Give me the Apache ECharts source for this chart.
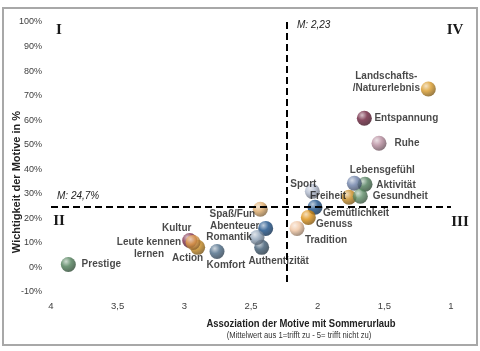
<!DOCTYPE html>
<html>
<head>
<meta charset="utf-8">
<script src="https://cdn.jsdelivr.net/npm/echarts@6/dist/echarts.min.js"></script>
<style>
  html, body { margin: 0; padding: 0; background: #fff; }
  #chart { width: 480px; height: 351px; }
</style>
</head>
<body>
<div id="chart"></div>
<script>
// Motive (Reihenfolge = Zeichenreihenfolge)
const motives = [
  'Prestige', 'Action', 'Kultur', 'Leute kennen\nlernen', 'Komfort',
  'Spaß/Fun', 'Abenteuer', 'Authentizität', 'Romantik',
  'Sport', 'Gemütlichkeit', 'Genuss', 'Tradition',
  'Freiheit', 'Aktivität', 'Lebensgefühl', 'Gesundheit',
  'Landschafts-\n/Naturerlebnis', 'Entspannung', 'Ruhe'
]
// Assoziation mit Sommerurlaub (Mittelwert 1-5)
const association = [
  3.87, 2.90, 2.96, 2.935, 2.755,
  2.43, 2.39, 2.42, 2.455,
  2.04, 2.02, 2.07, 2.155,
  1.765, 1.645, 1.725, 1.68,
  1.17, 1.65, 1.54
]
// Wichtigkeit der Motive in %
const importance = [
  1.2, 8.2, 11.0, 10.2, 6.5,
  23.7, 15.9, 8.2, 12.2,
  31.0, 24.5, 20.4, 15.9,
  28.6, 33.9, 34.3, 29.0,
  72.7, 60.8, 50.6
]
const meanAssociation = 2.23
const meanImportance = 24.7

// Farben der Kugeln
const ballColors = [
  '#4d7d57', '#c98b1f', '#7d2c48', '#e6a04a', '#4a6a86',
  '#deaa68', '#174d86', '#3d5a72', '#8ea2b8',
  '#aeb8cc', '#174d86', '#dd9012', '#f0c4a0',
  '#c98c22', '#4c7a58', '#6c80a8', '#5c8c66',
  '#d99a28', '#6b1e3a', '#b58a9c'
]
// Versatz der Beschriftung zur Kugelmitte
const labelOffsets = [
  [33, 0], [-10, 11], [-13, -12], [-44, 6], [9, 14],
  [-28, 5], [-31, -2], [17, 14], [-28, 0],
  [-9, -7], [41, 6], [26, 7], [29, 12],
  [-21, -1], [31, 1], [28, -13], [40, 0],
  [-42, -7], [42, 0], [28, 0]
]

const FONT = "'Liberation Sans',Arial,sans-serif"
const SERIF = "'Liberation Serif','Times New Roman',serif"

function mix(hex, target, t) {
  const a = parseInt(hex.slice(1), 16)
  const b = parseInt(target.slice(1), 16)
  const ch = (v, s) => (v >> s) & 255
  const c = [16, 8, 0].map(s => Math.round(ch(a, s) + (ch(b, s) - ch(a, s)) * t))
  return 'rgb(' + c.join(',') + ')'
}

function sphere(hex) {
  return new echarts.graphic.RadialGradient(0.35, 0.3, 0.75, [
    { offset: 0, color: mix(hex, '#ffffff', 0.65) },
    { offset: 0.45, color: hex },
    { offset: 1, color: mix(hex, '#000000', 0.45) }
  ])
}

const points = motives.map((name, i) => ({
  name: name,
  value: [association[i], importance[i]],
  itemStyle: { color: sphere(ballColors[i]) },
  label: { offset: labelOffsets[i] }
}))

const chart = echarts.init(document.getElementById('chart'))
chart.setOption({
  animation: false,
  grid: { left: 51, right: 29, top: 22, bottom: 59 },
  xAxis: {
    type: 'value',
    inverse: true,
    min: 1,
    max: 4,
    interval: 0.5,
    axisLine: { show: false },
    axisTick: { show: false },
    splitLine: { show: false },
    axisLabel: {
      margin: 9,
      color: '#404040',
      fontSize: 9.5,
      fontFamily: FONT,
      formatter: v => String(v).replace('.', ',')
    }
  },
  yAxis: {
    type: 'value',
    min: -10,
    max: 100,
    interval: 10,
    axisLine: { show: false },
    axisTick: { show: false },
    splitLine: { show: false },
    axisLabel: {
      margin: 9,
      color: '#404040',
      fontSize: 9,
      fontFamily: FONT,
      formatter: '{value}%'
    }
  },
  series: [{
    type: 'scatter',
    symbolSize: 15,
    data: points,
    label: {
      show: true,
      position: 'inside',
      formatter: p => p.name,
      color: '#1a1a1a',
      fontWeight: 'bold',
      fontSize: 10,
      lineHeight: 12,
      fontFamily: FONT,
      align: 'center'
    },
    markLine: {
      silent: true,
      symbol: 'none',
      label: { show: false },
      lineStyle: { color: '#000', width: 2, type: [7, 4] },
      data: [
        [{ coord: [meanAssociation, 100] }, { coord: [meanAssociation, -7] }],
        [{ coord: [4, meanImportance] }, { coord: [1, meanImportance] }]
      ]
    }
  }],
  graphic: [
    { type: 'rect', shape: { x: 3, y: 8, width: 474, height: 337 },
      style: { fill: 'none', stroke: '#a8a8a8', lineWidth: 2 }, silent: true },
    { type: 'text', x: 17, y: 182, rotation: Math.PI / 2,
      style: { text: 'Wichtigkeit der Motive in %', fill: '#222', font: 'bold 11px ' + FONT,
        align: 'center', verticalAlign: 'middle' } },
    { type: 'text', x: 301, y: 324, scaleX: 0.86,
      style: { text: 'Assoziation der Motive mit Sommerurlaub', fill: '#222', font: 'bold 11px ' + FONT,
        align: 'center', verticalAlign: 'middle' } },
    { type: 'text', x: 299, y: 336, scaleX: 0.9,
      style: { text: '(Mittelwert aus 1=trifft zu - 5= trifft nicht zu)', fill: '#333', font: '8.5px ' + FONT,
        align: 'center', verticalAlign: 'middle' } },
    { type: 'text', x: 297, y: 25,
      style: { text: 'M: 2,23', fill: '#222', font: 'italic 10px ' + FONT, verticalAlign: 'middle' } },
    { type: 'text', x: 57, y: 196,
      style: { text: 'M: 24,7%', fill: '#222', font: 'italic 10px ' + FONT, verticalAlign: 'middle' } },
    { type: 'text', x: 59, y: 30,
      style: { text: 'I', fill: '#1a1a1a', font: 'bold 15px ' + SERIF, align: 'center', verticalAlign: 'middle' } },
    { type: 'text', x: 455, y: 30,
      style: { text: 'IV', fill: '#1a1a1a', font: 'bold 15px ' + SERIF, align: 'center', verticalAlign: 'middle' } },
    { type: 'text', x: 59, y: 221,
      style: { text: 'II', fill: '#1a1a1a', font: 'bold 15px ' + SERIF, align: 'center', verticalAlign: 'middle' } },
    { type: 'text', x: 460, y: 222,
      style: { text: 'III', fill: '#1a1a1a', font: 'bold 15px ' + SERIF, align: 'center', verticalAlign: 'middle' } }
  ]
})
</script>
</body>
</html>
